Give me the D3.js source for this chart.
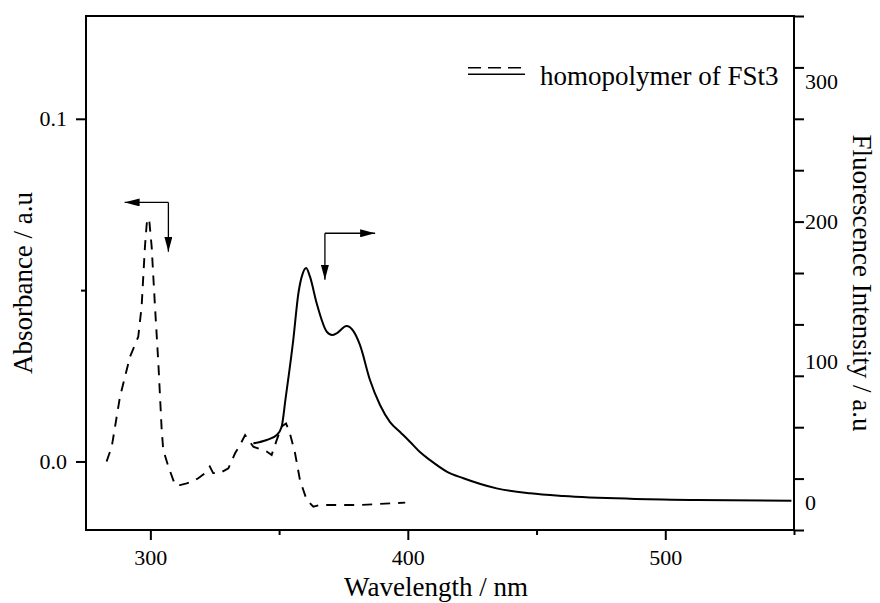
<!DOCTYPE html>
<html><head><meta charset="utf-8">
<script src="https://cdn.jsdelivr.net/npm/d3@7"></script>
<style>
body{margin:0;background:#fff}
svg{display:block}
</style>
</head><body>
<svg id="c" width="880" height="603"></svg>
<script>
// ---- data ----
const absWavelength = [283.0,285.0,288.2,292.1,295.3,296.6,297.9,298.6,299.5,300.5,301.8,303.1,304.4,305.0,307.0,309.6,311.5,314.1,316.1,318.6,321.2,323.1,324.4,327.0,330.3,332.9,334.8,336.8,340.0,345.2,347.1,349.1,351.0,352.7,354.2,356.2,358.1,360.7,363.3,365.9,381.4,399.0];
const absValue      = [0.000,0.0043,0.0189,0.0306,0.0364,0.0452,0.0627,0.0695,0.0710,0.0627,0.0452,0.0287,0.0092,0.0034,-0.0015,-0.0069,-0.0069,-0.0064,-0.0059,-0.0049,-0.0034,-0.0015,-0.0034,-0.0034,-0.0020,0.0024,0.0048,0.0077,0.0043,0.0029,0.0019,0.0063,0.0102,0.0111,0.0082,0.0024,-0.0054,-0.0112,-0.0132,-0.0127,-0.0127,-0.0120];

const flWavelength = [340.0,345.2,349.1,351.0,352.5,355.5,357.5,359.2,360.5,362.0,364.6,368.5,370.6,372.5,376.2,378.8,381.4,385.3,389.2,393.1,397.0,400.9,404.7,408.6,415.1,421.6,434.5,447.5,460.4,486.3,512.2,549.0];
const flValue      = [41.8,44.2,47.8,53.7,73.5,115.5,148.9,163.1,166.9,160.7,141.7,121.5,119.1,120.5,125.5,122.0,112.0,87.0,69.2,57.0,49.9,42.8,35.6,29.9,21.7,16.9,9.7,6.2,4.3,2.3,1.4,0.9];

const xTicksMajor = [300, 400, 500];
const xTicksMinor = [350, 450, 550];
const leftTicksMajor = [0.0, 0.1];
const leftTicksMinor = [0.05];
const rightTickLabels = [0, 100, 200, 300];
const rightTickMarks = [-20, 16.67, 53.33, 90, 126.67, 163.33, 200, 236.67, 273.33, 310, 346.67];

const legendLabel = "homopolymer of FSt3";
const xTitle = "Wavelength / nm";
const yLeftTitle = "Absorbance / a.u";
const yRightTitle = "Fluorescence Intensity / a.u";

// arrow annotations in data coordinates (wavelength, absorbance)
const arrowAbs = {corner:[307, 0.0756], hTip:[290, 0.0756], vTip:[307, 0.0612]};
const arrowFl  = {corner:[367.8, 0.0666], hTip:[387.3, 0.0666], vTip:[367.8, 0.0530]};

// ---- layout ----
const FONT = '"Liberation Serif", "Times New Roman", Times, serif';
const L = 86, R = 794, T = 16, B = 530;
const svg = d3.select("#c").attr("font-family", FONT);

const x = d3.scaleLinear().domain([275, 550]).range([L, R]);
const yL = d3.scaleLinear().domain([-0.02, 0.13]).range([B, T]);
const yR = d3.scaleLinear().domain([-20, 346.67]).range([B, T]);

const tickFont = "22px";

svg.append("defs").append("marker")
  .attr("id","ah").attr("viewBox","0 0 15 8").attr("refX",15).attr("refY",4)
  .attr("markerWidth",15).attr("markerHeight",8).attr("markerUnits","userSpaceOnUse")
  .attr("orient","auto")
  .append("path").attr("d","M0,0 L15,4 L0,8 Z").attr("fill","#000");

// ---- curves ----
const absData = absWavelength.map((w,i)=>[w, absValue[i]]);
const flData = flWavelength.map((w,i)=>[w, flValue[i]]);

svg.append("path").datum(absData)
  .attr("d", d3.line().x(d=>x(d[0])).y(d=>yL(d[1])).curve(d3.curveLinear))
  .attr("fill","none").attr("stroke","#000").attr("stroke-width",1.9)
  .attr("stroke-dasharray","10,8");

svg.append("path").datum(flData)
  .attr("d", d3.line().x(d=>x(d[0])).y(d=>yR(d[1])).curve(d3.curveMonotoneX))
  .attr("fill","none").attr("stroke","#000").attr("stroke-width",2);

// ---- axes ----
function styleAxis(g){
  g.attr("font-family", FONT).attr("font-size", null);
  g.select(".domain").remove();
  g.selectAll("line").attr("stroke","#000").attr("stroke-width",2);
  g.selectAll("text").style("font-size",tickFont).style("font-family",FONT).attr("fill","#000");
}

svg.append("g").attr("transform",`translate(0,${B})`)
  .call(d3.axisBottom(x).tickValues(xTicksMajor).tickSize(10).tickPadding(9).tickFormat(d3.format("d")))
  .call(styleAxis);
svg.append("g").attr("transform",`translate(0,${B})`)
  .call(d3.axisBottom(x).tickValues(xTicksMinor).tickSize(5).tickFormat(""))
  .call(styleAxis);

svg.append("g").attr("transform",`translate(${L},0)`)
  .call(d3.axisLeft(yL).tickValues(leftTicksMajor).tickSize(10).tickPadding(9).tickFormat(d3.format(".1f")))
  .call(styleAxis);
svg.append("g").attr("transform",`translate(${L},0)`)
  .call(d3.axisLeft(yL).tickValues(leftTicksMinor).tickSize(5).tickFormat(""))
  .call(styleAxis);

svg.append("g").attr("transform",`translate(${R},0)`)
  .call(d3.axisRight(yR).tickValues(rightTickMarks).tickSize(10).tickFormat(""))
  .call(styleAxis);
svg.append("g").attr("transform",`translate(${R},0)`)
  .call(d3.axisRight(yR).tickValues(rightTickLabels).tickSize(0).tickPadding(11).tickFormat(d3.format("d")))
  .call(styleAxis);

svg.append("rect").attr("x",L).attr("y",T).attr("width",R-L).attr("height",B-T)
  .attr("fill","none").attr("stroke","#000").attr("stroke-width",2);

// ---- titles ----
svg.append("text").attr("x",(L+R)/2 - 4).attr("y",596).attr("text-anchor","middle")
  .style("font-size","27px").text(xTitle);
svg.append("text").attr("transform",`translate(32,${(T+B)/2 + 10}) rotate(-90)`)
  .attr("text-anchor","middle").style("font-size","27px").text(yLeftTitle);
svg.append("text").attr("transform",`translate(853,${(T+B)/2 + 10}) rotate(90)`)
  .attr("text-anchor","middle").style("font-size","27px").text(yRightTitle);

// ---- arrows ----
function drawArrow(a){
  const c = [x(a.corner[0]), yL(a.corner[1])];
  svg.append("line").attr("x1",c[0]).attr("y1",c[1]).attr("x2",x(a.hTip[0])).attr("y2",yL(a.hTip[1]))
    .attr("stroke","#000").attr("stroke-width",1.3).attr("marker-end","url(#ah)");
  svg.append("line").attr("x1",c[0]).attr("y1",c[1]).attr("x2",x(a.vTip[0])).attr("y2",yL(a.vTip[1]))
    .attr("stroke","#000").attr("stroke-width",1.3).attr("marker-end","url(#ah)");
}
drawArrow(arrowAbs);
drawArrow(arrowFl);

// ---- legend ----
const lg = svg.append("g").attr("transform","translate(468,0)");
lg.append("line").attr("x1",0).attr("x2",57).attr("y1",67.7).attr("y2",67.7)
  .attr("stroke","#000").attr("stroke-width",1.6).attr("stroke-dasharray","13,7");
lg.append("line").attr("x1",0).attr("x2",57).attr("y1",74.3).attr("y2",74.3)
  .attr("stroke","#000").attr("stroke-width",1.6);
lg.append("text").attr("x",72).attr("y",85).style("font-size","27px").text(legendLabel);

svg.selectAll("text").style("font-family", FONT);
</script>
</body></html>
